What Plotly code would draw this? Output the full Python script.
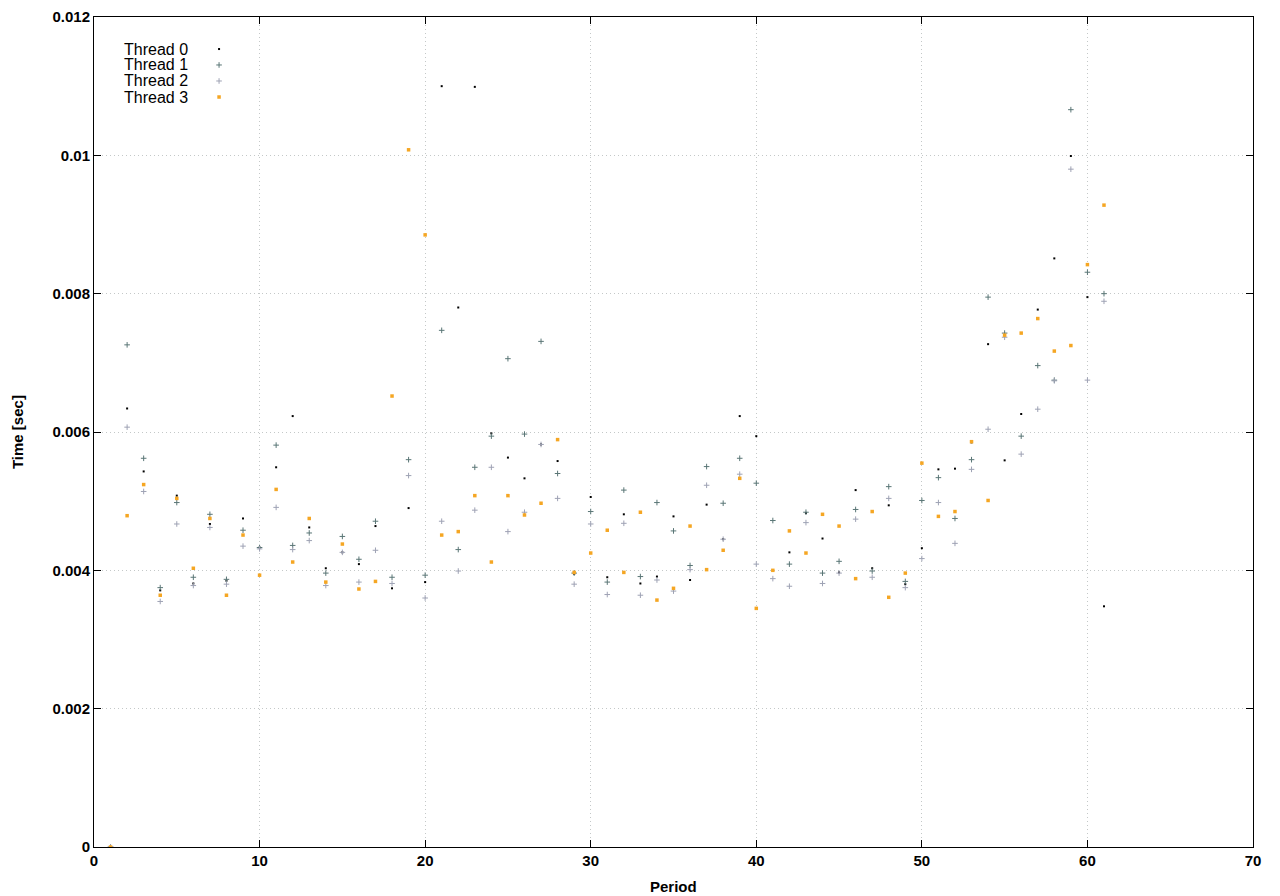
import plotly.graph_objects as go

periods = list(range(1, 62))

thread0 = [0.0, 0.00634, 0.00543, 0.00371, 0.00508, 0.00381, 0.00467, 0.00385, 0.00475, 0.00433,
           0.00549, 0.00623, 0.00462, 0.00403, 0.00426, 0.00409, 0.00464, 0.00374, 0.00490, 0.00383,
           0.01100, 0.00780, 0.01099, 0.00598, 0.00563, 0.00533, 0.00582, 0.00558, 0.00395, 0.00506,
           0.00390, 0.00481, 0.00381, 0.00391, 0.00478, 0.00386, 0.00495, 0.00445, 0.00623, 0.00594,
           0.00400, 0.00426, 0.00483, 0.00446, 0.00397, 0.00516, 0.00403, 0.00494, 0.00380, 0.00432,
           0.00546, 0.00547, 0.00585, 0.00727, 0.00559, 0.00626, 0.00777, 0.00851, 0.00999, 0.00795,
           0.00348]

thread1 = [0.0, 0.00726, 0.00562, 0.00375, 0.00498, 0.00390, 0.00481, 0.00387, 0.00458, 0.00433,
           0.00581, 0.00436, 0.00454, 0.00396, 0.00449, 0.00416, 0.00471, 0.00390, 0.00560, 0.00393,
           0.00747, 0.00430, 0.00549, 0.00594, 0.00706, 0.00597, 0.00731, 0.00540, 0.00396, 0.00485,
           0.00383, 0.00516, 0.00391, 0.00498, 0.00457, 0.00407, 0.00550, 0.00497, 0.00562, 0.00526,
           0.00472, 0.00409, 0.00484, 0.00396, 0.00413, 0.00488, 0.00399, 0.00521, 0.00384, 0.00501,
           0.00534, 0.00475, 0.00560, 0.00795, 0.00743, 0.00594, 0.00696, 0.00675, 0.01066, 0.00831,
           0.00800]

thread2 = [0.0, 0.00607, 0.00514, 0.00355, 0.00467, 0.00378, 0.00462, 0.00380, 0.00435, 0.00431,
           0.00491, 0.00430, 0.00443, 0.00378, 0.00426, 0.00383, 0.00429, 0.00381, 0.00537, 0.00360,
           0.00471, 0.00399, 0.00487, 0.00549, 0.00456, 0.00484, 0.00582, 0.00504, 0.00380, 0.00467,
           0.00365, 0.00468, 0.00364, 0.00386, 0.00370, 0.00401, 0.00523, 0.00445, 0.00539, 0.00409,
           0.00388, 0.00377, 0.00469, 0.00381, 0.00396, 0.00474, 0.00390, 0.00504, 0.00375, 0.00417,
           0.00498, 0.00439, 0.00546, 0.00604, 0.00737, 0.00568, 0.00633, 0.00674, 0.00980, 0.00675,
           0.00789]

thread3 = [0.0, 0.00479, 0.00524, 0.00364, 0.00504, 0.00403, 0.00475, 0.00364, 0.00451, 0.00393,
           0.00517, 0.00412, 0.00475, 0.00383, 0.00438, 0.00373, 0.00384, 0.00652, 0.01008, 0.00885,
           0.00451, 0.00456, 0.00508, 0.00412, 0.00508, 0.00480, 0.00497, 0.00589, 0.00397, 0.00425,
           0.00458, 0.00397, 0.00484, 0.00357, 0.00374, 0.00464, 0.00401, 0.00429, 0.00533, 0.00345,
           0.00400, 0.00457, 0.00425, 0.00481, 0.00464, 0.00388, 0.00485, 0.00361, 0.00396, 0.00555,
           0.00478, 0.00485, 0.00586, 0.00501, 0.00740, 0.00743, 0.00764, 0.00717, 0.00725, 0.00842,
           0.00928]

legend_labels = ["Thread 0", "Thread 1", "Thread 2", "Thread 3"]
x_ticks = [0, 10, 20, 30, 40, 50, 60, 70]
y_ticks = [0, 0.002, 0.004, 0.006, 0.008, 0.010, 0.012]
y_tick_text = ["0", "0.002", "0.004", "0.006", "0.008", "0.01", "0.012"]

colors = ["#000000", "#5a7676", "#9ea2b4", "#f5a623"]
symbols = ["square", "cross-thin", "cross-thin", "square"]
sizes = [2, 4, 4, 3.5]

FONT = "Liberation Sans, Arial, Helvetica, sans-serif"

fig = go.Figure()
series = [thread0, thread1, thread2, thread3]
for i, ys in enumerate(series):
    fig.add_trace(go.Scatter(
        x=periods, y=ys, mode="markers", name=legend_labels[i], showlegend=False,
        marker=dict(symbol=symbols[i], size=sizes[i], color=colors[i],
                    line=dict(width=1 if "thin" in symbols[i] else 0, color=colors[i])),
        xaxis="x", yaxis="y"))

# gnuplot-style key: text then sample marker to the right
key_y = [0.9614, 0.9422, 0.9229, 0.9036]
for i in range(4):
    fig.add_trace(go.Scatter(
        x=[0.1079], y=[key_y[i]], mode="markers", showlegend=False, hoverinfo="skip",
        marker=dict(symbol=symbols[i], size=sizes[i], color=colors[i],
                    line=dict(width=1 if "thin" in symbols[i] else 0, color=colors[i])),
        xaxis="x2", yaxis="y2"))
    fig.add_annotation(x=0.0828, y=key_y[i], xref="paper", yref="paper",
                       text=legend_labels[i], showarrow=False, xanchor="right", yanchor="middle",
                       font=dict(family=FONT, size=16, color="#000000"))

axis_common = dict(showline=True, linecolor="black", linewidth=1, mirror="allticks",
                   ticks="inside", ticklen=7, tickcolor="black", tickwidth=1,
                   showgrid=True, gridcolor="#c4c8c8", griddash="1px,3px", gridwidth=1,
                   zeroline=False, automargin=False,
                   tickfont=dict(family=FONT, size=15, color="black", weight="bold"))

fig.update_layout(
    width=1272, height=888,
    margin=dict(l=86, r=27, t=9, b=49),
    plot_bgcolor="white", paper_bgcolor="white",
    xaxis=dict(range=[0, 70], tickvals=x_ticks, **axis_common),
    yaxis=dict(range=[0, 0.012], tickvals=y_ticks, ticktext=y_tick_text, **axis_common),
    xaxis2=dict(overlaying="x", range=[0, 1], visible=False),
    yaxis2=dict(overlaying="y", range=[0, 1], visible=False),
)

fig.add_annotation(x=0.5, y=-0.047, xref="paper", yref="paper", text="<b>Period</b>",
                   showarrow=False, xanchor="center", yanchor="middle",
                   font=dict(family=FONT, size=15, color="black"))
fig.add_annotation(x=-0.0664, y=0.5, xref="paper", yref="paper", text="<b>Time [sec]</b>",
                   showarrow=False, textangle=-90, xanchor="center", yanchor="middle",
                   font=dict(family=FONT, size=15, color="black"))

fig.write_html("out.html")
